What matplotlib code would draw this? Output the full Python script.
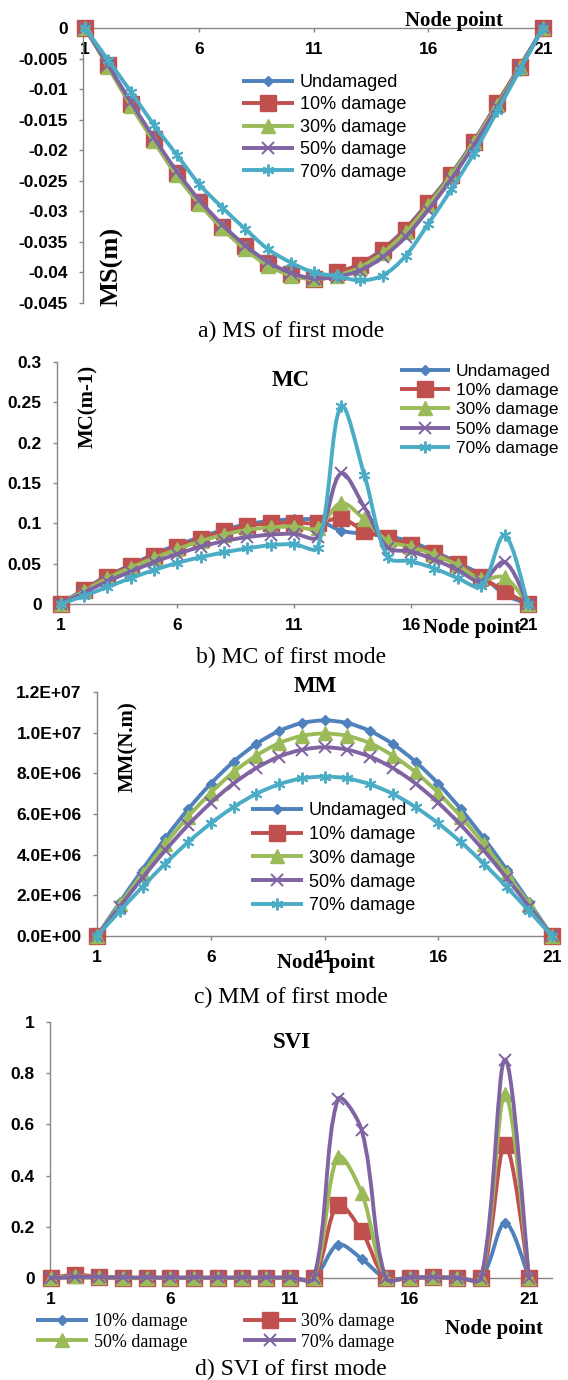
import numpy as np
import matplotlib
matplotlib.use("Agg")
import matplotlib.pyplot as plt
from matplotlib.path import Path
from matplotlib.patches import PathPatch
from matplotlib.lines import Line2D

W, H = 568, 1380
nan = float("nan")

nodes = list(range(1, 22))
x_ticks = [1, 6, 11, 16, 21]

# a) mode shape (m)
ms_undamaged = [0, -0.0062, -0.0125, -0.0184, -0.0240, -0.0287, -0.0328, -0.0361, -0.0387, -0.0404, -0.0410,
                -0.0401, -0.0386, -0.0362, -0.0328, -0.0285, -0.0238, -0.0184, -0.0123, -0.0062, 0]
ms_10 = [0, -0.0061, -0.0124, -0.0182, -0.0238, -0.0285, -0.0325, -0.0357, -0.0384, -0.0403, -0.0410,
         -0.0400, -0.0387, -0.0364, -0.0330, -0.0287, -0.0240, -0.0186, -0.0123, -0.0063, 0]
ms_30 = [0, -0.0063, -0.0127, -0.0185, -0.0241, -0.0288, -0.0328, -0.0362, -0.0389, -0.0405, -0.0411,
         -0.0405, -0.0392, -0.0368, -0.0334, -0.0290, -0.0241, -0.0187, -0.0126, -0.0064, 0]
ms_50 = [0, -0.0060, -0.0121, -0.0179, -0.0234, -0.0282, -0.0322, -0.0356, -0.0383, -0.0401, -0.0410,
         -0.0407, -0.0397, -0.0375, -0.0342, -0.0297, -0.0247, -0.0191, -0.0130, -0.0066, 0]
ms_70 = [0, -0.0052, -0.0104, -0.0158, -0.0207, -0.0256, -0.0294, -0.0329, -0.0362, -0.0384, -0.0400,
         -0.0406, -0.0413, -0.0405, -0.0373, -0.0320, -0.0264, -0.0204, -0.0136, -0.0068, 0]
ms_ticks = [-0.045, -0.04, -0.035, -0.03, -0.025, -0.02, -0.015, -0.01, -0.005, 0]
ms_labels = ["-0.045", "-0.04", "-0.035", "-0.03", "-0.025", "-0.02", "-0.015", "-0.01", "-0.005", "0"]

# b) modal curvature
mc_undamaged = [0, 0.018, 0.035, 0.048, 0.062, 0.073, 0.083, 0.092, 0.099, 0.103, 0.105,
                0.104, 0.091, 0.087, 0.084, 0.077, 0.065, 0.051, 0.036, 0.012, 0]
mc_10 = [0, 0.017, 0.034, 0.047, 0.060, 0.071, 0.081, 0.090, 0.097, 0.100, 0.101,
         0.100, 0.106, 0.091, 0.082, 0.073, 0.063, 0.049, 0.033, 0.016, 0]
mc_30 = [0, 0.016, 0.032, 0.045, 0.057, 0.068, 0.078, 0.086, 0.092, 0.095, 0.096,
         0.094, 0.125, 0.105, 0.078, 0.071, 0.061, 0.048, 0.031, 0.033, 0]
mc_50 = [0, 0.014, 0.028, 0.040, 0.052, 0.062, 0.071, 0.078, 0.083, 0.086, 0.087,
         0.083, 0.162, 0.120, 0.070, 0.065, 0.055, 0.042, 0.028, 0.052, 0]
mc_70 = [0, 0.010, 0.021, 0.032, 0.042, 0.051, 0.058, 0.064, 0.069, 0.073, 0.074,
         0.070, 0.245, 0.160, 0.058, 0.053, 0.044, 0.032, 0.022, 0.085, 0]
mc_ticks = [0, 0.05, 0.1, 0.15, 0.2, 0.25, 0.3]
mc_labels = ["0", "0.05", "0.1", "0.15", "0.2", "0.25", "0.3"]

# c) modal moment (N.m); the 10% series only shows its end points
mm_undamaged = [0, 1.65e6, 3.27e6, 4.81e6, 6.23e6, 7.49e6, 8.57e6, 9.44e6, 10.08e6, 10.47e6, 10.60e6,
                10.47e6, 10.08e6, 9.44e6, 8.57e6, 7.49e6, 6.23e6, 4.81e6, 3.27e6, 1.65e6, 0]
mm_10 = [0, nan, nan, nan, nan, nan, nan, nan, nan, nan, nan,
         nan, nan, nan, nan, nan, nan, nan, nan, nan, 0]
mm_30 = [0, 1.55e6, 3.07e6, 4.52e6, 5.86e6, 7.04e6, 8.06e6, 8.87e6, 9.48e6, 9.84e6, 9.96e6,
         9.84e6, 9.48e6, 8.87e6, 8.06e6, 7.04e6, 5.86e6, 4.52e6, 3.07e6, 1.55e6, 0]
mm_50 = [0, 1.44e6, 2.86e6, 4.21e6, 5.45e6, 6.55e6, 7.50e6, 8.26e6, 8.82e6, 9.16e6, 9.28e6,
         9.16e6, 8.82e6, 8.26e6, 7.50e6, 6.55e6, 5.45e6, 4.21e6, 2.86e6, 1.44e6, 0]
mm_70 = [0, 1.22e6, 2.42e6, 3.56e6, 4.61e6, 5.54e6, 6.34e6, 6.99e6, 7.46e6, 7.75e6, 7.84e6,
         7.75e6, 7.46e6, 6.99e6, 6.34e6, 5.54e6, 4.61e6, 3.56e6, 2.42e6, 1.22e6, 0]
mm_ticks = [0, 2e6, 4e6, 6e6, 8e6, 10e6, 12e6]
mm_labels = ["0.0E+00", "2.0E+06", "4.0E+06", "6.0E+06", "8.0E+06", "1.0E+07", "1.2E+07"]

# d) SVI
svi_10 = [0, 0.002, 0.001, 0, 0, 0, 0, 0, 0, 0, 0, 0, 0.130, 0.075, 0, 0, 0.001, 0, 0, 0.215, 0]
svi_30 = [0, 0.012, 0.005, 0, 0, 0, 0, 0, 0, 0, 0, 0, 0.285, 0.182, 0, 0, 0.004, 0, 0, 0.518, 0]
svi_50 = [0, 0.006, 0.004, 0.001, 0.001, 0.001, 0.001, 0.001, 0.001, 0.001, 0.001, 0,
          0.473, 0.332, 0, 0.001, 0.003, 0.001, 0, 0.717, 0]
svi_70 = [0, 0.004, 0.004, 0.002, 0.002, 0.002, 0.002, 0.002, 0.002, 0.002, 0.002, 0,
          0.698, 0.577, 0, 0.002, 0.003, 0.001, 0, 0.853, 0]
svi_ticks = [0, 0.2, 0.4, 0.6, 0.8, 1.0]
svi_labels = ["0", "0.2", "0.4", "0.6", "0.8", "1"]

BLUE, RED, GREEN, PURPLE, CYAN = "#4F81BD", "#C0504D", "#9BBB59", "#8064A2", "#4BACC6"
GRAY = "#878787"
STAR = (6, 2, 0)
SANS = "Liberation Sans"
SERIF = "Liberation Serif"
LW = 2.8

# marker style: (marker, size, edge width)
mk_diamond = ("D", 5.6, 1.0)
mk_square = ("s", 11, 1.0)
mk_tri = ("^", 9.5, 1.0)
mk_x = ("x", 8, 1.4)
mk_star = (STAR, 8.5, 1.4)


def box(left, top, right, bottom):
    return [left / W, 1 - bottom / H, (right - left) / W, (bottom - top) / H]


def fx(x):
    return x / W


def fy(y):
    return 1 - y / H


def smooth_line(ax, xs, ys, color, z):
    # excel-like smoothed line: bezier segments, tangents weighted by segment length on screen
    pts = np.column_stack([np.asarray(xs, float), np.asarray(ys, float)])
    ok = ~np.isnan(pts[:, 1])
    runs, cur = [], []
    for p, good in zip(pts, ok):
        if good:
            cur.append(p)
        elif cur:
            runs.append(cur)
            cur = []
    if cur:
        runs.append(cur)
    for run in runs:
        run = np.array(run)
        n = len(run)
        if n < 2:
            continue
        scr = ax.transData.transform(run)
        verts = [run[0]]
        codes = [Path.MOVETO]
        for i in range(n - 1):
            i0, i3 = max(i - 1, 0), min(i + 2, n - 1)
            d01 = np.hypot(*(scr[i] - scr[i0]))
            d12 = np.hypot(*(scr[i + 1] - scr[i]))
            d23 = np.hypot(*(scr[i3] - scr[i + 1]))
            f1 = d12 / (d01 + d12) / 3 if d01 > 0 else 1 / 6
            f2 = d12 / (d12 + d23) / 3 if d23 > 0 else 1 / 6
            c1 = run[i] + (run[i + 1] - run[i0]) * f1
            c2 = run[i + 1] - (run[i3] - run[i]) * f2
            verts += [c1, c2, run[i + 1]]
            codes += [Path.CURVE4] * 3
        ax.add_patch(PathPatch(Path(verts, codes), facecolor="none", edgecolor=color, lw=LW,
                               zorder=z, clip_on=False, capstyle="round", joinstyle="round"))


def draw_series(ax, series):
    handles = []
    for i, (label, ys, color, mk) in enumerate(series):
        m, ms, mew = mk
        smooth_line(ax, nodes, ys, color, 2 + 2 * i)
        ax.plot(nodes, ys, ls="none", marker=m, ms=ms, mfc=color, mec=color, mew=mew,
                zorder=3 + 2 * i, clip_on=False)
        handles.append(Line2D([], [], color=color, lw=LW, marker=m, ms=ms, mfc=color,
                              mec=color, mew=mew, solid_capstyle="butt"))
    return handles


def style_axes(ax, xlim, yticks, ylabels):
    ax.set_xlim(*xlim)
    ax.set_ylim(min(yticks), max(yticks))
    ax.patch.set_alpha(0)
    for s in ["top", "right"]:
        ax.spines[s].set_visible(False)
    for s in ["left", "bottom"]:
        ax.spines[s].set_color(GRAY)
        ax.spines[s].set_linewidth(1.0)
    ax.set_xticks(x_ticks)
    ax.set_xticklabels([str(t) for t in x_ticks])
    ax.set_yticks(yticks)
    ax.set_yticklabels(ylabels)
    ax.tick_params(axis="both", direction="out", length=3, width=1, color=GRAY)
    ax.tick_params(axis="x", pad=7)
    ax.tick_params(axis="y", pad=8)
    for lab in ax.get_xticklabels() + ax.get_yticklabels():
        lab.set_fontfamily(SANS)
        lab.set_fontweight("bold")
        lab.set_fontsize(12.5)


def add_legend(ax, handles, labels, x, y, fam, size, spacing, ncol=1, colsp=2.0):
    ax.legend(handles, labels, loc="upper left", bbox_to_anchor=(fx(x), fy(y)),
              bbox_transform=ax.figure.transFigure, frameon=False, borderpad=0,
              borderaxespad=0, handlelength=2.9, handletextpad=0.3, labelspacing=spacing,
              ncol=ncol, columnspacing=colsp, prop={"family": fam, "size": size})


fig = plt.figure(figsize=(W / 100, H / 100), dpi=100)
fig.patch.set_facecolor("white")

labels5 = ["Undamaged", "10% damage", "30% damage", "50% damage", "70% damage"]

# --- a) MS ---
ax = fig.add_axes(box(83, 28, 548, 303))
ax.spines["bottom"].set_position(("data", 0))
style_axes(ax, (0.913, 21.22), ms_ticks, ms_labels)
h = draw_series(ax, [
    (labels5[0], ms_undamaged, BLUE, mk_diamond),
    (labels5[1], ms_10, RED, mk_square),
    (labels5[2], ms_30, GREEN, mk_tri),
    (labels5[3], ms_50, PURPLE, mk_x),
    (labels5[4], ms_70, CYAN, mk_star),
])
add_legend(ax, h, labels5, 242, 74, SANS, 13, 0.3)
fig.text(fx(503), fy(26), "Node point", ha="right", va="baseline", family=SERIF,
         weight="bold", size=15)
fig.text(fx(112), fy(266), "MS(m)", ha="center", va="center", rotation=90, family=SERIF,
         weight="bold", size=19)
fig.text(fx(291), fy(337), "a) MS of first mode", ha="center", va="baseline", family=SERIF, size=17)

# --- b) MC ---
ax = fig.add_axes(box(57, 362, 534, 604))
style_axes(ax, (0.85, 21.26), mc_ticks, mc_labels)
h = draw_series(ax, [
    (labels5[0], mc_undamaged, BLUE, mk_diamond),
    (labels5[1], mc_10, RED, mk_square),
    (labels5[2], mc_30, GREEN, mk_tri),
    (labels5[3], mc_50, PURPLE, mk_x),
    (labels5[4], mc_70, CYAN, mk_star),
])
add_legend(ax, h, labels5, 400, 364, SANS, 12.5, 0.23)
fig.text(fx(291), fy(380), "MC", ha="center", va="center", family=SERIF, weight="bold", size=16.5)
fig.text(fx(88), fy(406), "MC(m-1)", ha="center", va="center", rotation=90, family=SERIF,
         weight="bold", size=15)
fig.text(fx(472), fy(633), "Node point", ha="center", va="baseline", family=SERIF,
         weight="bold", size=15)
fig.text(fx(291), fy(663), "b) MC of first mode", ha="center", va="baseline", family=SERIF, size=17)

# --- c) MM ---
ax = fig.add_axes(box(97, 692, 560, 936))
style_axes(ax, (1, 21.35), mm_ticks, mm_labels)
h = draw_series(ax, [
    (labels5[0], mm_undamaged, BLUE, mk_diamond),
    (labels5[1], mm_10, RED, mk_square),
    (labels5[2], mm_30, GREEN, mk_tri),
    (labels5[3], mm_50, PURPLE, mk_x),
    (labels5[4], mm_70, CYAN, mk_star),
])
add_legend(ax, h, labels5, 251, 802, SANS, 13, 0.38)
fig.text(fx(315), fy(687), "MM", ha="center", va="center", family=SERIF, weight="bold", size=16.5)
fig.text(fx(128), fy(747), "MM(N.m)", ha="center", va="center", rotation=90, family=SERIF,
         weight="bold", size=15)
fig.text(fx(326), fy(968), "Node point", ha="center", va="baseline", family=SERIF,
         weight="bold", size=15)
fig.text(fx(291), fy(1003), "c) MM of first mode", ha="center", va="baseline", family=SERIF, size=17)

# --- d) SVI ---
ax = fig.add_axes(box(50, 1022, 552, 1278))
style_axes(ax, (0.96, 21.96), svi_ticks, svi_labels)
labels4 = ["10% damage", "30% damage", "50% damage", "70% damage"]
h = draw_series(ax, [
    (labels4[0], svi_10, BLUE, mk_diamond),
    (labels4[1], svi_30, RED, mk_square),
    (labels4[2], svi_50, GREEN, mk_tri),
    (labels4[3], svi_70, PURPLE, mk_x),
])
add_legend(ax, [h[0], h[2], h[1], h[3]], [labels4[0], labels4[2], labels4[1], labels4[3]],
           36, 1313, SERIF, 13, 0.2, ncol=2, colsp=3.1)
fig.text(fx(292), fy(1043), "SVI", ha="center", va="center", family=SERIF, weight="bold", size=16.5)
fig.text(fx(494), fy(1334), "Node point", ha="center", va="baseline", family=SERIF,
         weight="bold", size=15)
fig.text(fx(291), fy(1375), "d) SVI of first mode", ha="center", va="baseline", family=SERIF, size=17)

fig.savefig("out.png", dpi=100)
